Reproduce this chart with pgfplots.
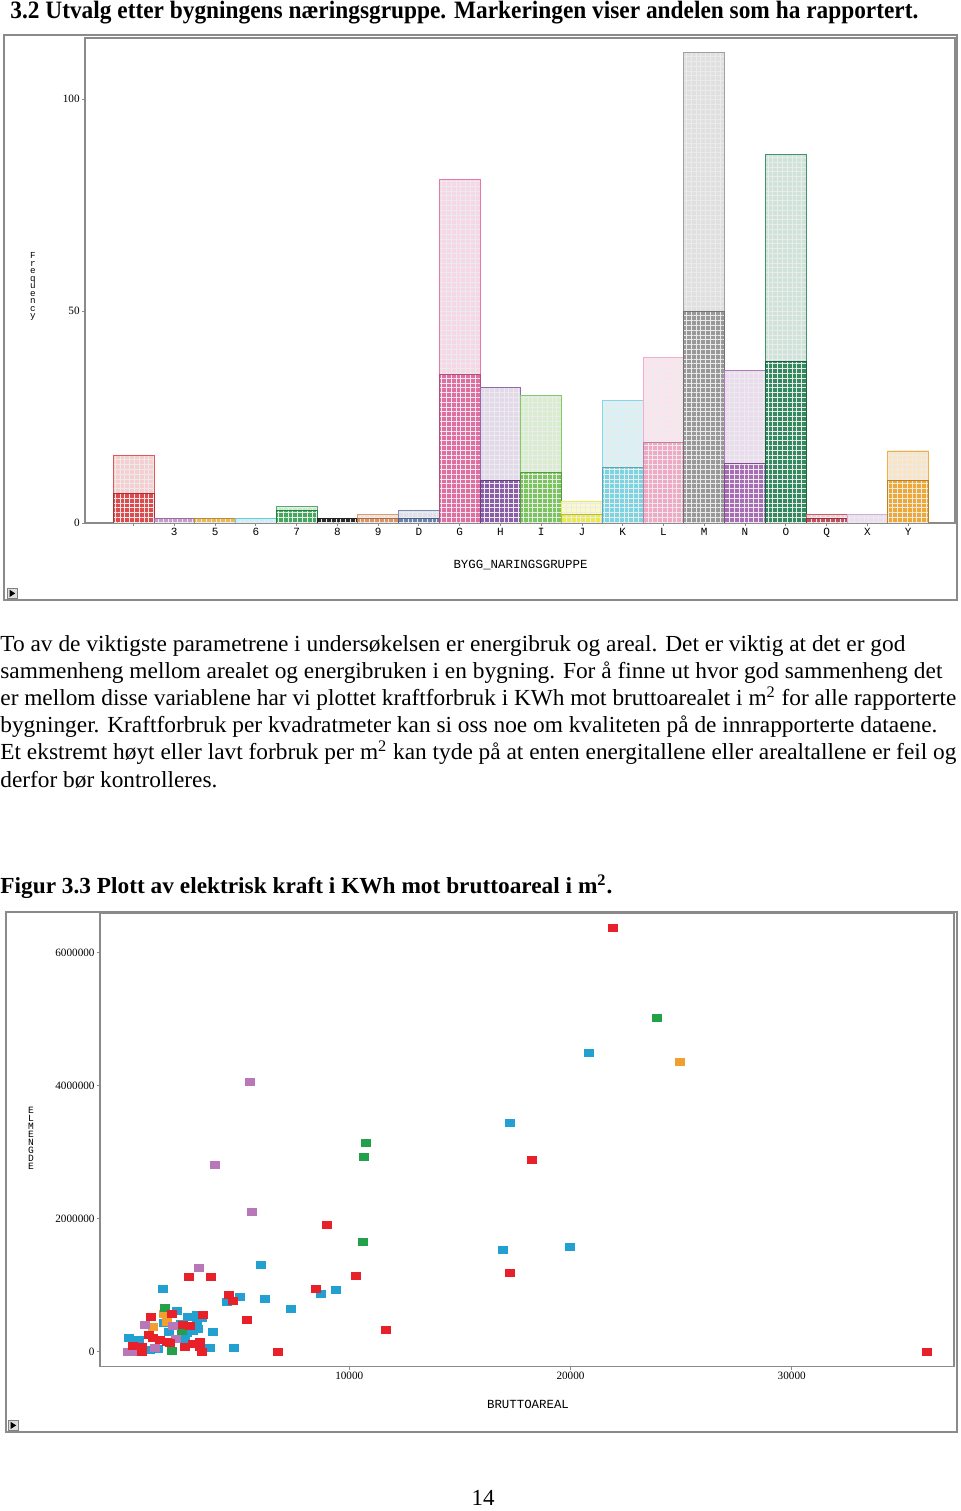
\documentclass[border=0pt]{standalone}
\usepackage{pgfplots}
\pgfplotsset{compat=1.18}
\usetikzlibrary{calc,patterns.meta}
\usepackage{fontspec}
\setmainfont{Liberation Serif}
\setmonofont{Liberation Mono}
\usepackage{graphicx}

\definecolor{cA}{HTML}{DC3A3E}
\definecolor{c3}{HTML}{C088C4}
\definecolor{c5}{HTML}{E8B044}
\definecolor{c6}{HTML}{50C8E0}
\definecolor{c7}{HTML}{30A050}
\definecolor{c8}{HTML}{222222}
\definecolor{c9}{HTML}{D88858}
\definecolor{cD}{HTML}{6078A8}
\definecolor{cG}{HTML}{E0609A}
\definecolor{cH}{HTML}{8050A0}
\definecolor{cI}{HTML}{70C050}
\definecolor{cJ}{HTML}{E8E840}
\definecolor{cK}{HTML}{70D0E0}
\definecolor{cL}{HTML}{F0A0C0}
\definecolor{cM}{HTML}{909090}
\definecolor{cN}{HTML}{A060B0}
\definecolor{cO}{HTML}{208050}
\definecolor{cQ}{HTML}{C04050}
\definecolor{cX}{HTML}{C8A8D8}
\definecolor{cY}{HTML}{F0A020}

\definecolor{sR}{HTML}{E8202A}
\definecolor{sC}{HTML}{22A0D2}
\definecolor{sG}{HTML}{22A04A}
\definecolor{sP}{HTML}{B878B8}
\definecolor{sO}{HTML}{F0A030}
\definecolor{frame}{HTML}{8A8A8A}

\begin{document}
\begin{tikzpicture}
\useasboundingbox (0,0) rectangle (480pt,755.5pt);

% ---------- page text ----------
\node[anchor=base west, inner sep=0pt] at (5pt,746pt)
  {\resizebox{454pt}{\height}{\fontsize{12.5}{14}\selectfont\bfseries 3.2 Utvalg etter bygningens næringsgruppe. Markeringen viser andelen som ha rapportert.}};

\begin{scope}[every node/.style={anchor=base west, inner sep=0pt}]
\node at (0pt,429.5pt) {\resizebox{452.5pt}{\height}{\fontsize{11.5}{13.5}\selectfont To av de viktigste parametrene i undersøkelsen er energibruk og areal. Det er viktig at det er god}};
\node at (0pt,416pt) {\resizebox{471pt}{\height}{\fontsize{11.5}{13.5}\selectfont sammenheng mellom arealet og energibruken i en bygning. For å finne ut hvor god sammenheng det}};
\node at (0pt,402.5pt) {\resizebox{478pt}{\height}{\fontsize{11.5}{13.5}\selectfont er mellom disse variablene har vi plottet kraftforbruk i KWh mot bruttoarealet i m\textsuperscript{2} for alle rapporterte}};
\node at (0pt,389pt) {\resizebox{468.5pt}{\height}{\fontsize{11.5}{13.5}\selectfont bygninger. Kraftforbruk per kvadratmeter kan si oss noe om kvaliteten på de innrapporterte dataene.}};
\node at (0pt,375.5pt) {\resizebox{478pt}{\height}{\fontsize{11.5}{13.5}\selectfont Et ekstremt høyt eller lavt forbruk per m\textsuperscript{2} kan tyde på at enten energitallene eller arealtallene er feil og}};
\node at (0pt,361.5pt) {\resizebox{108.5pt}{\height}{\fontsize{11.5}{13.5}\selectfont derfor bør kontrolleres.}};
\node at (0pt,308.5pt) {\resizebox{306pt}{\height}{\fontsize{11.5}{13.5}\selectfont\bfseries Figur 3.3 Plott av elektrisk kraft i KWh mot bruttoareal i m\textsuperscript{2}.}};
\node[anchor=base] at (241.5pt,2.5pt) {\fontsize{11.5}{13.5}\selectfont 14};
\end{scope}

% ---------- panel frames ----------
\draw[frame, line width=0.7pt] (2pt,455.5pt) rectangle (478.5pt,738pt);
\draw[frame, line width=0.7pt] (3pt,39.5pt) rectangle (478.5pt,299.5pt);
% small play buttons
\foreach \bx/\by in {6pt/458.8pt, 6.5pt/42.8pt}{
  \draw[gray, fill=gray!25, line width=0.3pt] ($(\bx,\by)+(-2.6pt,-2.6pt)$) rectangle ($(\bx,\by)+(2.6pt,2.6pt)$);
  \fill[black] ($(\bx,\by)+(-1.2pt,-1.8pt)$) -- ($(\bx,\by)+(1.6pt,0pt)$) -- ($(\bx,\by)+(-1.2pt,1.8pt)$) -- cycle;
}

% axis titles
\node[font=\ttfamily\fontsize{6.2}{7}\selectfont, inner sep=0pt] at (260.25pt,473pt) {BYGG\_NARINGSGRUPPE};
\foreach \c [count=\i] in {F,r,e,q,u,e,n,c,y}
  \node[font=\ttfamily\fontsize{4.6}{5}\selectfont, anchor=base, inner sep=0pt] at (16.5pt,{626pt-(\i-1)*3.75pt}) {\c};
\node[font=\ttfamily\fontsize{6.2}{7}\selectfont, inner sep=0pt] at (264pt,53.5pt) {BRUTTOAREAL};
\foreach \c [count=\i] in {E,L,M,E,N,G,D,E}
  \node[font=\ttfamily\fontsize{4.8}{5}\selectfont, anchor=base, inner sep=0pt] at (15.5pt,{198.5pt-(\i-1)*4pt}) {\c};

% ---------- top chart: bar chart ----------
\begin{axis}[
  at={(42.5pt,494pt)}, anchor=south west, scale only axis,
  width=435pt, height=242.5pt,
  xmin=-1.19, xmax=20.15, ymin=0, ymax=114.4,
  ybar, bar width=1, bar shift=0pt,
  xtick={0,...,19},
  xticklabels={,3,5,6,7,8,9,D,G,H,I,J,K,L,M,N,O,Q,X,Y},
  ytick={0,50,100},
  tick pos=left, tick align=outside, major tick length=1.5pt,
  axis line style={frame, line width=0.7pt},
  tick style={frame, line width=0.4pt},
  xticklabel style={font=\ttfamily\fontsize{5.5}{6}\selectfont, inner sep=1pt},
  yticklabel style={font=\fontsize{5.6}{6}\selectfont, inner sep=1pt},
  /pgf/number format/assume math mode=true,
  every axis plot/.append style={postaction={pattern={Hatch[angle=0,distance=2.4pt,line width=0.35pt]}, pattern color=white!92!black}},
]
\addplot[fill=cA!25, draw=cA!85] coordinates {(0,16)};
\addplot[fill=cA!92, draw=cA!80!black] coordinates {(0,7)};
\addplot[fill=c3!40, draw=c3!85] coordinates {(1,1)};
\addplot[fill=c3!85, draw=c3!80!black] coordinates {(1,1)};
\addplot[fill=c5!40, draw=c5!85] coordinates {(2,1)};
\addplot[fill=c5!90, draw=c5!80!black] coordinates {(2,1)};
\addplot[fill=c6!30, draw=c6!90] coordinates {(3,1)};
\addplot[fill=c7!25, draw=c7!85] coordinates {(4,4)};
\addplot[fill=c7!92, draw=c7!80!black] coordinates {(4,3)};
\addplot[fill=c8!40, draw=c8] coordinates {(5,1)};
\addplot[fill=c8!95, draw=c8] coordinates {(5,1)};
\addplot[fill=c9!25, draw=c9!85] coordinates {(6,2)};
\addplot[fill=c9!92, draw=c9!80!black] coordinates {(6,1)};
\addplot[fill=cD!22, draw=cD!85] coordinates {(7,3)};
\addplot[fill=cD!92, draw=cD!80!black] coordinates {(7,1)};
\addplot[fill=cG!25, draw=cG!85] coordinates {(8,81)};
\addplot[fill=cG!92, draw=cG!80!black] coordinates {(8,35)};
\addplot[fill=cH!22, draw=cH!85] coordinates {(9,32)};
\addplot[fill=cH!92, draw=cH!80!black] coordinates {(9,10)};
\addplot[fill=cI!28, draw=cI!85] coordinates {(10,30)};
\addplot[fill=cI!92, draw=cI!80!black] coordinates {(10,12)};
\addplot[fill=cJ!28, draw=cJ!85] coordinates {(11,5)};
\addplot[fill=cJ!92, draw=cJ!80!black] coordinates {(11,2)};
\addplot[fill=cK!28, draw=cK!85] coordinates {(12,29)};
\addplot[fill=cK!92, draw=cK!80!black] coordinates {(12,13)};
\addplot[fill=cL!28, draw=cL!85] coordinates {(13,39)};
\addplot[fill=cL!92, draw=cL!80!black] coordinates {(13,19)};
\addplot[fill=cM!28, draw=cM!85] coordinates {(14,111)};
\addplot[fill=cM!92, draw=cM!80!black] coordinates {(14,50)};
\addplot[fill=cN!22, draw=cN!85] coordinates {(15,36)};
\addplot[fill=cN!92, draw=cN!80!black] coordinates {(15,14)};
\addplot[fill=cO!22, draw=cO!85] coordinates {(16,87)};
\addplot[fill=cO!92, draw=cO!80!black] coordinates {(16,38)};
\addplot[fill=cQ!25, draw=cQ!85] coordinates {(17,2)};
\addplot[fill=cQ!92, draw=cQ!80!black] coordinates {(17,1)};
\addplot[fill=cX!38, draw=cX!90] coordinates {(18,2)};
\addplot[fill=cY!28, draw=cY!85] coordinates {(19,17)};
\addplot[fill=cY!92, draw=cY!80!black] coordinates {(19,10)};
\end{axis}

% ---------- bottom chart: scatter ----------
\begin{axis}[
  at={(50pt,72.15pt)}, anchor=south west, scale only axis,
  width=427pt, height=226.85pt,
  xmin=-1270, xmax=37337, ymin=-225600, ymax=6597000,
  xtick={10000,20000,30000},
  ytick={0,2000000,4000000,6000000},
  scaled ticks=false,
  /pgf/number format/fixed,
  /pgf/number format/1000 sep={},
  /pgf/number format/assume math mode=true,
  tick pos=left, tick align=outside, major tick length=1.5pt,
  axis line style={frame, line width=0.7pt},
  tick style={frame, line width=0.4pt},
  ticklabel style={font=\fontsize{5.6}{6}\selectfont, inner sep=1pt},
  only marks, mark=square*, mark size=1.75pt,
]
\addplot[only marks, mark=square*, mark options={xscale=1.3, fill=sC, draw=sC}] coordinates {
(20840,4492000) (17270,3439000) (16950,1529000) (19980,1574000) (5995,1308000)
(1591,938000) (8707,872000) (9399,928000) (4485,747000) (5059,827000)
(6189,788000) (7365,638000) (4801,60000) (3852,296000) (3327,502000)
(3101,552000) (2722,517000) (2197,617000) (1623,436000) (3101,427000)
(3174,337000) (2948,316000) (1849,292000) (2649,277000) (2586,186000)
(41,202000) (506,176000) (1365,41000) (990,26000) (3703,60000) (2400,420000)
};
\addplot[only marks, mark=square*, mark options={xscale=1.3, fill=sO, draw=sO}] coordinates {
(24951,4356000) (1623,567000) (1745,442000) (1112,376000)
};
\addplot[only marks, mark=square*, mark options={xscale=1.3, fill=sG, draw=sG}] coordinates {
(23911,5018000) (10755,3138000) (10665,2928000) (10633,1650000)
(1655,662000) (2423,316000) (1998,15000)
};
\addplot[only marks, mark=square*, mark options={xscale=1.3, fill=sP, draw=sP}] coordinates {
(5511,4056000) (3929,2808000) (5588,2105000) (3205,1259000)
(764,406000) (2043,391000) (2152,186000) (1216,60000) (163,0) (9,0)
};
\addplot[only marks, mark=square*, mark options={xscale=1.3, fill=sR, draw=sR}] coordinates {
(21920,6372000) (18260,2883000) (8980,1901000) (17270,1183000) (36118,0)
(11660,322000) (10303,1143000) (8481,947000) (6790,0) (5389,481000)
(4575,853000) (4756,767000) (3734,1128000) (2767,1119000) (3386,552000)
(1998,567000) (1035,517000) (2468,402000) (2798,391000) (945,251000)
(1139,202000) (1442,176000) (1745,150000) (235,86000) (615,75000)
(615,0) (2572,75000) (2948,111000) (3251,150000) (3327,0)
(3251,75000) (1894,126000)
};
\end{axis}
\end{tikzpicture}
\end{document}
